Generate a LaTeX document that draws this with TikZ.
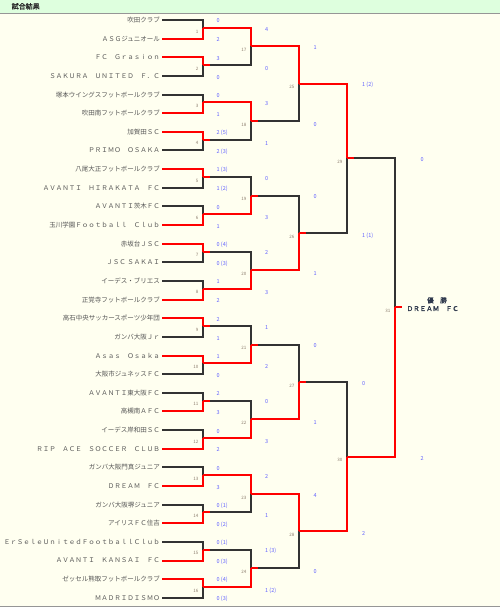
\documentclass[tikz,border=0pt]{standalone}
\usepackage{fontspec}
\newfontfamily\jp{Noto Sans CJK JP}
\newfontfamily\jpbold[FakeBold=1.5]{Noto Sans CJK JP}
\usetikzlibrary{calc}
\definecolor{pagebg}{RGB}{255,255,240}
\definecolor{headbg}{RGB}{222,255,222}
\definecolor{rulegray}{RGB}{150,150,150}
\definecolor{headtext}{RGB}{40,40,40}
\definecolor{linedark}{RGB}{51,51,51}
\definecolor{teamtext}{RGB}{85,85,85}
\definecolor{scoreblue}{RGB}{100,100,255}
\definecolor{numgray}{RGB}{140,125,110}
\definecolor{champtext}{RGB}{45,55,75}

\begin{document}
\begin{tikzpicture}[x=1pt, y=-1pt,
        team/.style={anchor=east, inner sep=2pt, text=teamtext,
                     font=\jp\fontsize{6.5}{7}\selectfont},
        score/.style={anchor=west, inner sep=0pt, text=scoreblue,
                      font=\jp\fontsize{5.5}{6}\selectfont},
        matchno/.style={anchor=east, inner sep=0pt, text=numgray,
                        font=\jp\fontsize{4.5}{5}\selectfont},
        win/.style={line width=2pt, red},
        lose/.style={line width=2pt, linedark},
    ]
    \useasboundingbox (0,0) rectangle (500,607);
    \fill[pagebg] (0,0) rectangle (500,607);
    \fill[headbg] (0,0) rectangle (500,13);
    \draw[rulegray, line width=1pt] (0,13.3) -- (500,13.3);
    \draw[rulegray, line width=1.2pt] (0,606.2) -- (500,606.2);
    \node[anchor=west, inner sep=0pt, text=headtext,
          font=\jpbold\fontsize{7}{8}\selectfont] (title) at (11.5,6.3) {試合結果};

    \foreach \name [count=\i] in {吹田クラブ, ＡＳＧジュニオール, ＦＣ　Ｇｒａｓｉｏｎ,
            ＳＡＫＵＲＡ　ＵＮＩＴＥＤ　Ｆ．Ｃ, 塚本ウイングスフットボールクラブ,
            吹田南フットボールクラブ, 加賀田ＳＣ, ＰＲＩＭＯ　ＯＳＡＫＡ,
            八尾大正フットボールクラブ, ＡＶＡＮＴＩ　ＨＩＲＡＫＡＴＡ　ＦＣ,
            ＡＶＡＮＴＩ茨木ＦＣ, 玉川学園Ｆｏｏｔｂａｌｌ　Ｃｌｕｂ, 赤坂台ＪＳＣ,
            ＪＳＣ ＳＡＫＡＩ, イーデス・ブリエス, 正覚寺フットボールクラブ,
            高石中央サッカースポーツ少年団, ガンバ大阪Ｊｒ, Ａｓａｓ　Ｏｓａｋａ,
            大阪市ジュネッスＦＣ, ＡＶＡＮＴＩ東大阪ＦＣ, 高槻南ＡＦＣ,
            イーデス岸和田ＳＣ, ＲＩＰ　ＡＣＥ　ＳＯＣＣＥＲ　ＣＬＵＢ,
            ガンバ大阪門真ジュニア, ＤＲＥＡＭ　ＦＣ, ガンバ大阪堺ジュニア,
            アイリスＦＣ住吉, ＥｒＳｅｌｅＵｎｉｔｅｄＦｏｏｔｂａｌｌＣｌｕｂ,
            ＡＶＡＮＴＩ　ＫＡＮＳＡＩ　ＦＣ, ゼッセル熊取フットボールクラブ,
            ＭＡＤＲＩＤＩＳＭＯ}
        \node[team] (t\i) at (162,{20+18.64*(\i-1)}) {\name};

    \foreach \r/\first/\n in {1/1/16, 2/17/8, 3/25/4, 4/29/2, 5/31/1}
        \foreach \j in {1,...,\n} {
            \pgfmathtruncatemacro\k{\first+\j-1}
            \coordinate (m\k) at ({203+48*(\r-1)}, {18.5+18.64*(2^\r*(\j-1)+(2^\r-1)/2)});
        }

    \foreach \c [count=\p] in {1,4,5,8,10,11,14,15,18,20,21,23,25,27,29,32}
        \draw[lose] (t\c.east) -| (m\p);
    \foreach \c [count=\p from 17] in {2,4,5,7,9,11,14,15,18,19,21,24,26,27,29}
        \draw[lose] (m\c) -| (m\p);
    \foreach \c [count=\p] in {2,3,6,7,9,12,13,16,17,19,22,24,26,28,30,31}
        \draw[win] (t\c.east) -| (m\p);
    \foreach \c [count=\p from 17] in {1,3,6,8,10,12,13,16,17,20,22,23,25,28,30}
        \draw[win] (m\c) -| (m\p);
    \foreach \m in {1,...,31}
        \draw[win] (m\m) -- ++(7,0);

    \foreach \m in {1,...,31}
        \node[matchno] (no\m) at ($(m\m)+(-4.5,3.6)$) {\m};

    \foreach \p/\sa/\sb in {1/0/2, 2/3/0, 3/0/1, 4/2 (5)/2 (3), 5/1 (3)/1 (2), 6/0/1,
            7/0 (4)/0 (3), 8/1/2, 9/2/1, 10/1/0, 11/2/3, 12/0/2, 13/0/3,
            14/0 (1)/0 (2), 15/0 (1)/0 (3), 16/0 (4)/0 (3)} {
        \node[score] (sa\p) at ($(m\p)+(13.5,-6.8)$) {\sa};
        \node[score] (sb\p) at ($(m\p)+(13.5,12)$) {\sb};
    }
    \foreach \p/\sa/\sb in {17/4/0, 18/3/1, 19/0/3, 20/2/3, 21/1/2, 22/0/3, 23/2/1, 24/1 (3)/1 (2)} {
        \node[score] (sa\p) at ($(m\p)+(14,-17.3)$) {\sa};
        \node[score] (sb\p) at ($(m\p)+(14,22.1)$) {\sb};
    }
    \foreach \p/\sa/\sb in {25/1/0, 26/0/1, 27/0/1, 28/4/0} {
        \node[score] (sa\p) at ($(m\p)+(14.5,-36)$) {\sa};
        \node[score] (sb\p) at ($(m\p)+(14.5,40.3)$) {\sb};
    }
    \foreach \p/\sa/\sb in {29/1 (2)/1 (1), 30/0/2} {
        \node[score] (sa\p) at ($(m\p)+(15,-73.3)$) {\sa};
        \node[score] (sb\p) at ($(m\p)+(15,77.4)$) {\sb};
    }
    \node[score] (sa31) at ($(m31)+(25.5,-147.8)$) {0};
    \node[score] (sb31) at ($(m31)+(25.5,150.6)$) {2};

    \node[inner sep=0pt, text=champtext, font=\jpbold\fontsize{6.5}{7}\selectfont]
        (yusho) at (437,300.3) {優　勝};
    \node[anchor=west, inner sep=0pt, text=champtext, font=\jpbold\fontsize{6.5}{7}\selectfont]
        (champ) at (406.5,308.6) {ＤＲＥＡＭ　ＦＣ};
\end{tikzpicture}
\end{document}
